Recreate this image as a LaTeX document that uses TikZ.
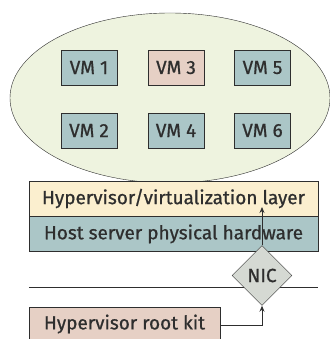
\documentclass[tikz,border=0pt]{standalone}
\usepackage{fontspec}
\setmainfont[FakeBold=0.8]{Fira Sans}
\usetikzlibrary{positioning,arrows.meta,shapes.geometric}

\definecolor{cloudfill}{HTML}{EEF3DF}
\definecolor{vmfill}{HTML}{ABC6C7}
\definecolor{redfill}{HTML}{E6D0C5}
\definecolor{hypfill}{HTML}{FBEFCF}
\definecolor{nicfill}{HTML}{D5D9D3}
\definecolor{inkgray}{HTML}{2E2E2E}

\begin{document}
\begin{tikzpicture}[
    x=1pt, y=-1pt,
    every node/.style={text=inkgray},
    label font/.style={font=\fontsize{19}{21}\selectfont},
    vm/.style={draw=inkgray, fill=vmfill, minimum width=56pt, minimum height=35pt, inner sep=0pt, label font},
    layer/.style={draw=inkgray, minimum width=289pt, minimum height=35pt, inner sep=0pt, label font},
    arrow/.style={-{Stealth[length=6pt,width=5pt]}, thick, draw=inkgray}
]
\useasboundingbox (0,0) rectangle (329,339);

% Virtual machines
\node[draw=inkgray, fill=cloudfill, ellipse, minimum width=320pt, minimum height=170pt, inner sep=0pt] (cloud) at (170,98) {};
\node[vm] (vm1) at (89,67.5) {VM 1};
\node[vm, fill=redfill] (vm3) at (176,67.5) {VM 3};
\node[vm] (vm5) at (262.5,67.5) {VM 5};
\node[vm] (vm2) at (89,130.5) {VM 2};
\node[vm] (vm4) at (176,130.5) {VM 4};
\node[vm] (vm6) at (262.5,130.5) {VM 6};

% Layers
\node[layer, fill=hypfill] (hyp) at (173.5,198.5) {Hypervisor/virtualization layer};
\node[layer, fill=vmfill, below=0pt of hyp] (host) {Host server physical hardware};

% Network
\coordinate (netl) at (hyp.west |- 0,287);
\coordinate (netr) at (hyp.east |- 0,287);
\draw[draw=inkgray, thick] (netl) -- (netr);
\node[draw=inkgray, fill=nicfill, diamond, minimum size=60pt, inner sep=0pt, label font] (nic) at (262,275.5) {NIC};

% Attacker
\node[draw=inkgray, fill=redfill, minimum width=191pt, minimum height=40pt, inner sep=0pt, anchor=north west] (rootkit) at (29,307) {};
\node[label font] (rootlab) at (124.5,324) {Hypervisor root kit};

% Arrows
\coordinate (hit) at (262,207);
\draw[arrow] (rootkit.east |- 0,325) -| (nic.south);
\draw[arrow] (nic.north) -- (hit);
\end{tikzpicture}
\end{document}
